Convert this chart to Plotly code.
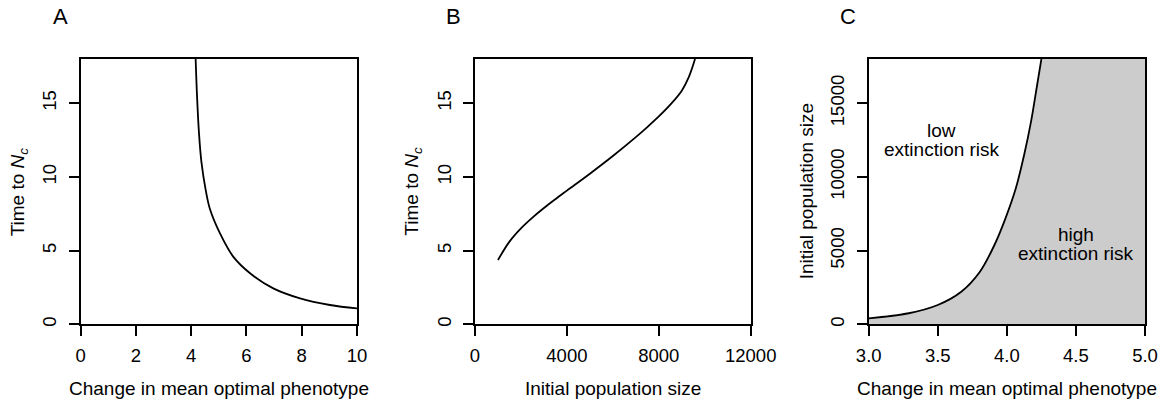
import plotly.graph_objects as go

# Panel A: time to critical size vs. change in mean optimal phenotype
shift_a = [4.16, 4.21, 4.28, 4.37, 4.53, 4.68, 5.04, 5.52, 6.13, 6.97, 7.94, 9.02, 10.0]
time_a = [18.0, 15.5, 13.0, 11.0, 9.05, 7.8, 6.17, 4.59, 3.46, 2.44, 1.76, 1.31, 1.08]

# Panel B: time to critical size vs. initial population size
n0_b = [1000, 1500, 2000, 2500, 3000, 3500, 4000, 5000, 6000, 7000, 7500, 8000, 8500, 9000, 9300, 9577]
time_b = [4.36, 5.61, 6.51, 7.24, 7.89, 8.49, 9.07, 10.22, 11.42, 12.7, 13.38, 14.1, 14.9, 15.85, 16.75, 18.0]

# Panel C: extinction-risk boundary
shift_c = [3.0, 3.29, 3.50, 3.67, 3.805, 3.91, 3.99, 4.065, 4.125, 4.175, 4.215, 4.25]
n0_c = [400, 750, 1310, 2210, 3570, 5380, 7190, 9230, 11490, 13750, 16000, 18000]

region_labels = [["low", "extinction risk"], ["high", "extinction risk"]]
region_x = [3.528, 4.498]
region_y = [12525, 5435]

xticks_a = [0, 2, 4, 6, 8, 10]
xticks_b = [0, 4000, 8000, 12000]
xticks_c = [3.0, 3.5, 4.0, 4.5, 5.0]
yticks_time = [0, 5, 10, 15]
yticks_c = [0, 5000, 10000, 15000]

FONT = "Liberation Sans, Arial, Helvetica, sans-serif"
W, H = 1164, 400
boxes = {  # plot box edges in pixels (left, right)
    "a": (80.7, 357.0),
    "b": (475.0, 750.7),
    "c": (868.7, 1145.0),
}
top_px, bot_px = 59.0, 324.3
ydom = [1 - bot_px / H, 1 - top_px / H]

fig = go.Figure()

line_style = dict(color="black", width=1.8, shape="spline", smoothing=1.0)

fig.add_trace(go.Scatter(x=shift_a, y=time_a, mode="lines", line=line_style,
                         xaxis="x", yaxis="y", showlegend=False))
fig.add_trace(go.Scatter(x=n0_b, y=time_b, mode="lines", line=line_style,
                         xaxis="x2", yaxis="y2", showlegend=False))

# grey high-risk region to the right of the boundary
fill_x = shift_c + [xticks_c[-1], xticks_c[-1], xticks_c[0]]
fill_y = n0_c + [n0_c[-1], 0, 0]
fig.add_trace(go.Scatter(x=fill_x, y=fill_y, mode="lines", fill="toself",
                         fillcolor="#cccccc", line=dict(width=0),
                         xaxis="x3", yaxis="y3", showlegend=False, hoverinfo="skip"))
fig.add_trace(go.Scatter(x=shift_c, y=n0_c, mode="lines", line=line_style,
                         xaxis="x3", yaxis="y3", showlegend=False))

axis_common = dict(
    showline=True, linecolor="black", linewidth=2, mirror=True,
    ticks="outside", ticklen=10, tickwidth=1.8, tickcolor="black",
    showgrid=False, zeroline=False, automargin=False,
    tickfont=dict(family=FONT, size=18.5, color="black"),
)
xax = dict(axis_common, ticklabelstandoff=3)
yax = dict(axis_common, ticklabelstandoff=5, tickangle=-90)

def xdom(key):
    l, r = boxes[key]
    return [l / W, r / W]

fig.update_layout(
    width=W, height=H, autosize=False,
    margin=dict(l=0, r=0, t=0, b=0, pad=0),
    paper_bgcolor="white", plot_bgcolor="white",
    xaxis=dict(xax, domain=xdom("a"), range=[0, 10], tickvals=xticks_a, anchor="y"),
    yaxis=dict(yax, domain=ydom, range=[0, 18], tickvals=yticks_time, anchor="x"),
    xaxis2=dict(xax, domain=xdom("b"), range=[0, 12000], tickvals=xticks_b,
                tickformat="d", anchor="y2"),
    yaxis2=dict(yax, domain=ydom, range=[0, 18], tickvals=yticks_time, anchor="x2"),
    xaxis3=dict(xax, domain=xdom("c"), range=[3, 5], tickvals=xticks_c,
                tickformat=".1f", anchor="y3"),
    yaxis3=dict(yax, domain=ydom, range=[0, 18000], tickvals=yticks_c,
                tickformat="d", anchor="x3"),
)

ann = []
def text(x, y, s, size=19, angle=0):
    ann.append(dict(x=x / W, y=1 - y / H, xref="paper", yref="paper", text=s,
                    showarrow=False, textangle=angle, xanchor="center", yanchor="middle",
                    font=dict(family=FONT, size=size, color="black")))

# panel letters
text(60.8, 17, "A", size=22)
text(453.0, 17, "B", size=22)
text(847.8, 17, "C", size=22)

# axis titles
xt_y = 388
text(sum(boxes["a"]) / 2, xt_y, "Change in mean optimal phenotype")
text(sum(boxes["b"]) / 2, xt_y, "Initial population size")
text(sum(boxes["c"]) / 2, xt_y, "Change in mean optimal phenotype")
ymid = (top_px + bot_px) / 2
time_title = "Time to <i>N<sub>c</sub></i>"
text(boxes["a"][0] - 62, ymid, time_title, angle=-90)
text(boxes["b"][0] - 62, ymid, time_title, angle=-90)
text(boxes["c"][0] - 62, ymid, "Initial population size", angle=-90)

# region labels inside panel C
for lines, x, y in zip(region_labels, region_x, region_y):
    for i, s in enumerate(lines):
        ann.append(dict(x=x, y=y, xref="x3", yref="y3", text=s, showarrow=False,
                        xanchor="center", yanchor="middle",
                        yshift=9.6 - 19.3 * i,
                        font=dict(family=FONT, size=19, color="black")))

fig.update_layout(annotations=ann)
fig.write_html("out.html")
